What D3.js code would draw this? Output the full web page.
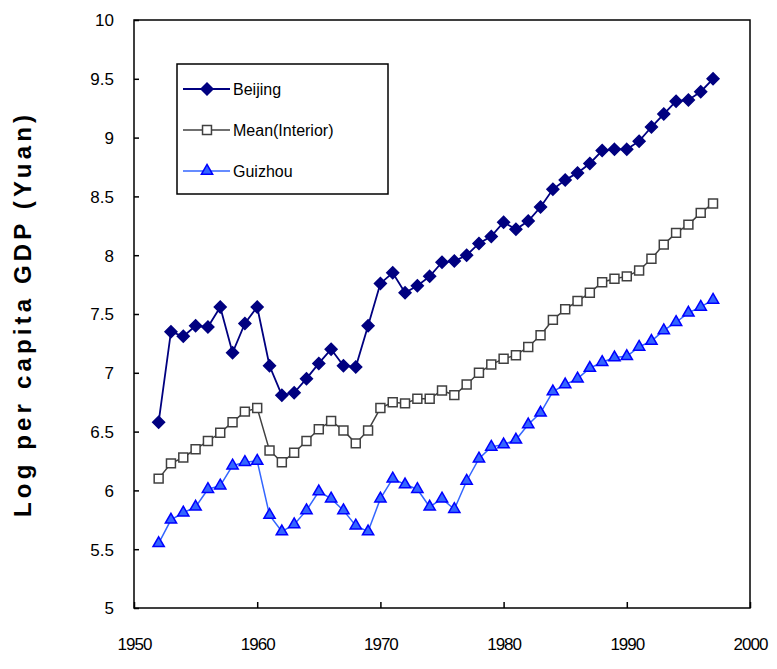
<!DOCTYPE html>
<html>
<head>
<meta charset="utf-8">
<script src="https://cdn.jsdelivr.net/npm/d3@7"></script>
<style>
  body { margin: 0; background: #fff; }
  svg text { font-family: "Liberation Sans", Arial, sans-serif; fill: #000; }
</style>
</head>
<body>
<svg id="chart" width="777" height="669"></svg>
<script>
const years = d3.range(1952, 1998);

const beijing = [
  6.58, 7.35, 7.31, 7.40, 7.39, 7.56, 7.17, 7.42, 7.56, 7.06,
  6.81, 6.83, 6.95, 7.08, 7.20, 7.06, 7.05, 7.40, 7.76, 7.85,
  7.68, 7.74, 7.82, 7.94, 7.95, 8.00, 8.10, 8.16, 8.28, 8.22,
  8.29, 8.41, 8.56, 8.64, 8.70, 8.78, 8.89, 8.90, 8.90, 8.97,
  9.09, 9.20, 9.31, 9.32, 9.39, 9.50
];

const meanInterior = [
  6.10, 6.23, 6.28, 6.35, 6.42, 6.49, 6.58, 6.67, 6.70, 6.34,
  6.24, 6.32, 6.42, 6.52, 6.59, 6.51, 6.40, 6.51, 6.70, 6.75,
  6.74, 6.78, 6.78, 6.85, 6.81, 6.90, 7.00, 7.07, 7.12, 7.15,
  7.22, 7.32, 7.45, 7.54, 7.61, 7.68, 7.77, 7.80, 7.82, 7.87,
  7.97, 8.09, 8.19, 8.26, 8.36, 8.44
];

const guizhou = [
  5.55, 5.75, 5.81, 5.86, 6.01, 6.04, 6.21, 6.24, 6.25, 5.79,
  5.65, 5.71, 5.83, 5.99, 5.93, 5.83, 5.70, 5.65, 5.93, 6.10,
  6.05, 6.01, 5.86, 5.93, 5.84, 6.08, 6.27, 6.37, 6.39, 6.43,
  6.56, 6.66, 6.84, 6.90, 6.95, 7.04, 7.09, 7.13, 7.14, 7.22,
  7.27, 7.36, 7.43, 7.51, 7.56, 7.62
];

const xTicks = [1950, 1960, 1970, 1980, 1990, 2000];
const yTicks = [5, 5.5, 6, 6.5, 7, 7.5, 8, 8.5, 9, 9.5, 10];

const diamond = d3.symbolDiamond2 || d3.symbolDiamond;

const series = [
  { name: "Beijing", values: beijing, line: "#000080", fill: "#000080", stroke: "#000080", symbol: diamond, size: 90, width: 1.8 },
  { name: "Mean(Interior)", values: meanInterior, line: "#404040", fill: "#fff", stroke: "#404040", symbol: d3.symbolSquare, size: 80, width: 1.5 },
  { name: "Guizhou", values: guizhou, line: "#3366ff", fill: "#3366ff", stroke: "#0000ff", symbol: d3.symbolTriangle, size: 55, width: 1.5 }
];

const svg = d3.select("#chart");
const plotLeft = 134, plotRight = 750, plotTop = 20, plotBottom = 608;

const x = d3.scaleLinear().domain([1950, 2000]).range([plotLeft, plotRight]);
const y = d3.scaleLinear().domain([5, 10]).range([plotBottom, plotTop]);

// plot frame
svg.append("rect")
  .attr("x", plotLeft).attr("y", plotTop)
  .attr("width", plotRight - plotLeft).attr("height", plotBottom - plotTop)
  .attr("fill", "none").attr("stroke", "#000").attr("stroke-width", 1.5);

// y axis, ticks inside
const yAxis = svg.append("g")
  .attr("transform", `translate(${plotLeft},0)`)
  .call(d3.axisRight(y).tickValues(yTicks).tickSize(5).tickFormat(""));
yAxis.select(".domain").remove();
yAxis.selectAll("line").attr("stroke-width", 1.5);

yAxis.selectAll(".tick").append("text")
  .attr("x", -20).attr("dy", "0.35em")
  .attr("text-anchor", "end")
  .style("font-size", "17px")
  .style("fill", "#000")
  .text(d => d3.format("")(d));

// x axis, ticks inside
const xAxis = svg.append("g")
  .attr("transform", `translate(0,${plotBottom})`)
  .call(d3.axisTop(x).tickValues(xTicks).tickSize(6).tickFormat(""));
xAxis.select(".domain").remove();
xAxis.selectAll("line").attr("stroke-width", 1.5);

xAxis.selectAll(".tick").append("text")
  .attr("y", 42)
  .attr("text-anchor", "middle")
  .style("font-family", "'Liberation Sans Narrow', 'Arial Narrow', 'Liberation Sans', sans-serif")
  .style("font-size", "17px")
  .style("letter-spacing", "-1px")
  .style("fill", "#000")
  .text(d => d);

// y title
svg.append("text")
  .attr("transform", "translate(31,316) rotate(-90)")
  .attr("text-anchor", "middle")
  .attr("textLength", 402)
  .attr("lengthAdjust", "spacing")
  .style("font-size", "24px")
  .style("font-weight", "bold")
  .text("Log per capita GDP (Yuan)");

// lines and markers
const line = d3.line()
  .x((d, i) => x(years[i]))
  .y(d => y(d));

series.forEach(s => {
  svg.append("path")
    .datum(s.values)
    .attr("fill", "none")
    .attr("stroke", s.line)
    .attr("stroke-width", s.width)
    .attr("d", line);

  svg.append("g").selectAll("path")
    .data(s.values)
    .join("path")
    .attr("transform", (d, i) => `translate(${x(years[i])},${y(d)})`)
    .attr("d", d3.symbol().type(s.symbol).size(s.size))
    .attr("fill", s.fill)
    .attr("stroke", s.stroke)
    .attr("stroke-width", 1.5);
});

// legend
const legend = svg.append("g").attr("transform", "translate(177,64)");
legend.append("rect")
  .attr("width", 211).attr("height", 130)
  .attr("fill", "#fff").attr("stroke", "#000").attr("stroke-width", 1.5);

series.forEach((s, i) => {
  const g = legend.append("g").attr("transform", `translate(0,${25 + i * 41})`);
  g.append("line")
    .attr("x1", 6).attr("x2", 53)
    .attr("stroke", s.line).attr("stroke-width", s.width);
  g.append("path")
    .attr("transform", "translate(30,0)")
    .attr("d", d3.symbol().type(s.symbol).size(s.size))
    .attr("fill", s.fill)
    .attr("stroke", s.stroke)
    .attr("stroke-width", 1.5);
  g.append("text")
    .attr("x", 56).attr("dy", "0.35em")
    .style("font-size", "16px")
    .text(s.name);
});
</script>
</body>
</html>
